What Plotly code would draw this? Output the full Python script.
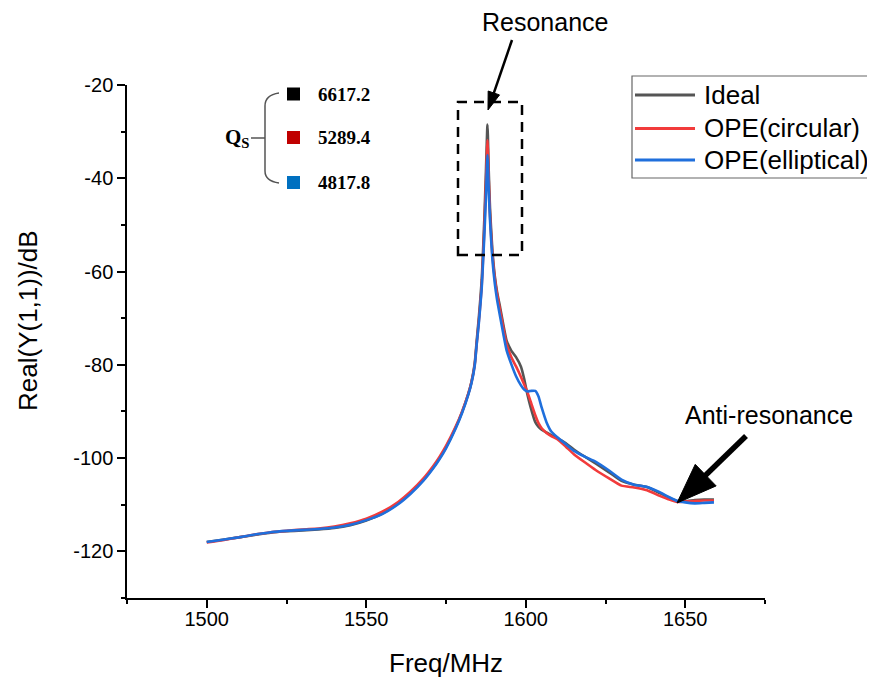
import math
import plotly.graph_objects as go

# ---------------- data ----------------
freq = [1500, 1505, 1510, 1515, 1520, 1525, 1530, 1535, 1540, 1545, 1550, 1555, 1560,
        1564, 1568, 1571, 1573, 1575, 1578, 1580, 1582, 1583, 1584,
        1584.6, 1585.3, 1586.2, 1587, 1587.5, 1588, 1588.4, 1588.8, 1589.5, 1590.3,
        1591, 1592, 1593, 1594, 1595.5, 1597, 1598.5, 1599.5, 1600.5, 1601.5,
        1603, 1604, 1605, 1606.5, 1608, 1610, 1612.5, 1615, 1618.5, 1622,
        1626, 1630, 1634, 1638, 1642, 1645, 1647.5, 1650, 1653, 1656, 1659]

ideal = [-118.0, -117.5, -117.0, -116.5, -116.0, -115.7, -115.5, -115.3, -115.0, -114.4, -113.4, -111.9, -109.7,
         -107.4, -104.6, -102.0, -100.0, -97.7, -93.5, -90.2, -86.2, -83.6, -79.7,
         -75.0, -69.8, -61.8, -49.0, -39.0, -28.5, -38.5, -46.5, -55.0, -61.0,
         -64.3, -67.8, -71.5, -74.8, -77.0, -78.4, -80.4, -83.0, -86.3, -89.0,
         -92.3, -93.3, -93.9, -94.5, -95.1, -95.8, -96.8, -98.1, -99.7, -101.2,
         -103.0, -104.9, -105.7, -106.2, -107.5, -108.5, -109.2, -109.2, -109.0, -108.9, -108.9]

circular = [-118.1, -117.6, -117.0, -116.4, -115.9, -115.6, -115.3, -115.1, -114.7, -114.0, -113.0, -111.5, -109.4,
            -107.1, -104.3, -101.7, -99.7, -97.4, -93.3, -90.1, -86.2, -83.7, -80.0,
            -75.6, -70.6, -63.0, -51.0, -41.5, -31.8, -40.5, -48.0, -56.0, -61.5,
            -64.8, -68.5, -72.2, -75.6, -78.4, -80.4, -82.6, -84.2, -85.8, -87.8,
            -90.8, -92.5, -93.6, -94.6, -95.3, -96.0, -97.5, -99.1, -100.9, -102.6,
            -104.3, -105.9, -106.3, -106.9, -108.1, -108.9, -109.4, -109.3, -109.2, -109.1, -109.1]

elliptical = [-118.0, -117.5, -117.0, -116.4, -115.9, -115.6, -115.4, -115.2, -114.9, -114.3, -113.3, -112.0, -109.9,
              -107.6, -104.8, -102.2, -100.2, -97.9, -93.7, -90.4, -86.4, -83.9, -80.2,
              -75.8, -71.0, -63.5, -52.5, -44.5, -35.0, -42.5, -49.0, -57.0, -62.6,
              -66.0, -69.8, -73.5, -76.9, -79.9, -82.5, -84.4, -85.3, -85.7, -85.6,
              -85.6, -86.8, -89.2, -92.3, -94.3, -95.6, -97.0, -98.4, -99.7, -100.8,
              -102.6, -104.6, -105.7, -106.2, -107.3, -108.4, -109.2, -109.5, -109.7, -109.6, -109.5]

series_names = ["Ideal", "OPE(circular)", "OPE(elliptical)"]
series_colors = ["#555555", "#f23b3b", "#1f6fdc"]

qs_values = ["6617.2", "5289.4", "4817.8"]
qs_colors = ["#000000", "#c00000", "#0070c0"]

x_ticks = [1500, 1550, 1600, 1650]
y_ticks = [-120, -100, -80, -60, -40, -20]

# ---------------- layout geometry ----------------
# page has an 8px body margin, so the figure is sized to fit the window
OFF = 8
WIN_W, WIN_H = 875, 679
W, H = WIN_W - OFF, WIN_H - OFF
PL, PR, PT, PB = 127, 765, 85, 598      # plot area in window pixels
X0, X1 = 1475, 1675
Y0, Y1 = -130, -20


def px(p):
    return (p - PL) / (PR - PL)


def py(p):
    return (PB - p) / (PB - PT)


SANS = "Liberation Sans, Arial, sans-serif"
SERIF = "Liberation Serif, Times New Roman, serif"

fig = go.Figure()
for name, vals, col in zip(series_names, [ideal, circular, elliptical], series_colors):
    fig.add_trace(go.Scatter(x=freq, y=vals, mode="lines", name=name, showlegend=False,
                             line=dict(color=col, width=2.6, shape="spline", smoothing=0.5)))

shapes = []
annotations = []


def text(t, x, y, size, family=SANS, xanchor="center", angle=0):
    annotations.append(dict(text=t, x=px(x), y=py(y), xref="paper", yref="paper",
                            xanchor=xanchor, yanchor="middle", textangle=angle,
                            showarrow=False, font=dict(family=family, size=size, color="black")))


# dashed box around resonance
shapes.append(dict(type="rect", xref="paper", yref="paper",
                   x0=px(458), x1=px(522), y0=py(255), y1=py(102),
                   line=dict(color="black", width=2.5, dash="10px,7px")))


def arrow(tail, tip, head_len, head_half, width):
    dx, dy = tip[0] - tail[0], tip[1] - tail[1]
    L = math.hypot(dx, dy)
    ux, uy = dx / L, dy / L
    bx, by = tip[0] - ux * head_len, tip[1] - uy * head_len
    nx, ny = -uy, ux
    shapes.append(dict(type="line", xref="paper", yref="paper",
                       x0=px(tail[0]), y0=py(tail[1]), x1=px(bx + ux * 2), y1=py(by + uy * 2),
                       line=dict(color="black", width=width)))
    c1 = (bx + nx * head_half, by + ny * head_half)
    c2 = (bx - nx * head_half, by - ny * head_half)
    path = "M {:.5f},{:.5f} L {:.5f},{:.5f} L {:.5f},{:.5f} Z".format(
        px(tip[0]), py(tip[1]), px(c1[0]), py(c1[1]), px(c2[0]), py(c2[1]))
    shapes.append(dict(type="path", xref="paper", yref="paper", path=path,
                       fillcolor="black", line=dict(color="black", width=1)))


arrow((512, 40), (488, 110), 18, 6, 2.5)
arrow((746, 436), (677, 503), 40, 15, 5.5)

text("Resonance", 545, 22, 25)
text("Anti-resonance", 769, 415, 25)

# Qs brace + squares + values
sq_y = [94, 137.5, 182.5]
for val, col, yy in zip(qs_values, qs_colors, sq_y):
    shapes.append(dict(type="rect", xref="paper", yref="paper",
                       x0=px(287), x1=px(300), y0=py(yy + 6.5), y1=py(yy - 6.5),
                       fillcolor=col, line=dict(width=0)))
    text("<b>" + val + "</b>", 316, yy, 19, family=SERIF, xanchor="left")

brace_pts = [("M", 279, 93), ("Q", 265, 95, 265, 106), ("L", 265, 171), ("Q", 265, 181, 279, 183)]
parts = []
for p in brace_pts:
    s = p[0]
    coords = p[1:]
    for i in range(0, len(coords), 2):
        s += " {:.5f},{:.5f}".format(px(coords[i]), py(coords[i + 1]))
    parts.append(s)
shapes.append(dict(type="path", xref="paper", yref="paper", path=" ".join(parts),
                   line=dict(color="#555555", width=1.5)))
shapes.append(dict(type="line", xref="paper", yref="paper",
                   x0=px(251), x1=px(265), y0=py(138), y1=py(138),
                   line=dict(color="#555555", width=1.5)))
text("<b>Q<sub>S</sub></b>", 252, 138, 21, family=SERIF, xanchor="right")

# legend (drawn box, sample lines and labels)
shapes.append(dict(type="rect", xref="paper", yref="paper",
                   x0=px(632), x1=px(874), y0=py(178), y1=py(76),
                   fillcolor="white", line=dict(color="#666666", width=1.2), layer="above"))
leg_y = [95, 128.5, 160]
for name, col, yy in zip(series_names, series_colors, leg_y):
    shapes.append(dict(type="line", xref="paper", yref="paper",
                       x0=px(635), x1=px(695), y0=py(yy), y1=py(yy),
                       line=dict(color=col, width=2.8)))
    text(name, 702, yy, 26, xanchor="left")

# axis titles
text("Freq/MHz", 446, 663, 26)
text("Real(Y(1,1))/dB", 28, 321, 26, angle=-90)

fig.update_layout(
    width=W, height=H,
    margin=dict(l=PL - OFF, r=WIN_W - PR, t=PT - OFF, b=WIN_H - PB, autoexpand=False),
    paper_bgcolor="white", plot_bgcolor="white",
    showlegend=False,
    shapes=shapes,
    annotations=annotations,
    xaxis=dict(range=[X0, X1], tickvals=x_ticks, ticktext=[str(v) for v in x_ticks],
               showline=True, linecolor="black", linewidth=1.5, showgrid=False, zeroline=False,
               ticks="outside", ticklen=8, tickwidth=1.5, tickcolor="black",
               ticklabelstandoff=-6,
               tickfont=dict(family=SANS, size=20, color="black"),
               minor=dict(dtick=25, tick0=1475, ticks="outside", ticklen=4, tickwidth=1.5,
                          tickcolor="black", showgrid=False)),
    yaxis=dict(range=[Y0, Y1], tickvals=y_ticks, ticktext=[str(v) for v in y_ticks],
               showline=True, linecolor="black", linewidth=1.5, showgrid=False, zeroline=False,
               ticks="outside", ticklen=8, tickwidth=1.5, tickcolor="black",
               tickfont=dict(family=SANS, size=20, color="black"),
               minor=dict(dtick=10, tick0=-130, ticks="outside", ticklen=4, tickwidth=1.5,
                          tickcolor="black", showgrid=False)),
)

fig.write_html("out.html")
